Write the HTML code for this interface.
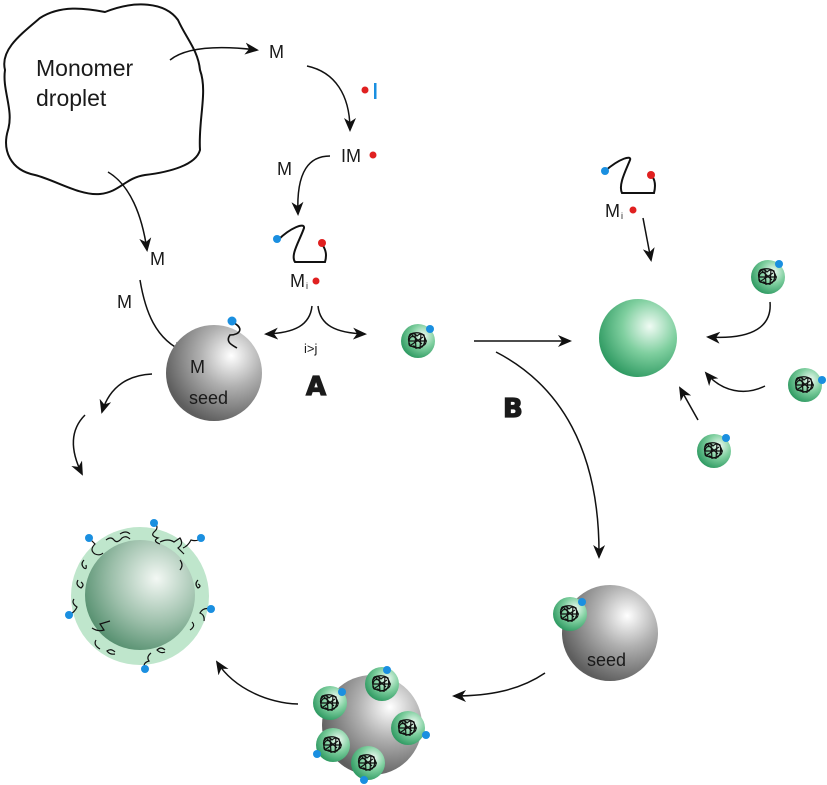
<!DOCTYPE html>
<html><head><meta charset="utf-8"><style>body{margin:0;background:#fff}svg{display:block}text{font-family:"Liberation Sans",sans-serif;fill:#1a1a1a}</style></head><body>
<svg width="827" height="785" viewBox="0 0 827 785" xmlns="http://www.w3.org/2000/svg">
<defs>
<radialGradient id="gr" cx="0.68" cy="0.32" r="0.72"><stop offset="0" stop-color="#ffffff"/><stop offset="0.45" stop-color="#b0b0b0"/><stop offset="1" stop-color="#5e5e5e"/></radialGradient>
<radialGradient id="gn" cx="0.65" cy="0.35" r="0.7"><stop offset="0" stop-color="#f0fbf4"/><stop offset="0.5" stop-color="#7fcf9f"/><stop offset="1" stop-color="#2f9a62"/></radialGradient>
<radialGradient id="gn2" cx="0.65" cy="0.35" r="0.75"><stop offset="0" stop-color="#f3f8f4"/><stop offset="0.55" stop-color="#9cbfaa"/><stop offset="1" stop-color="#4d8a68"/></radialGradient>
<marker id="ah" markerWidth="14" markerHeight="12" refX="12" refY="6" orient="auto" markerUnits="userSpaceOnUse"><path d="M0,0 L14,6 L0,12 L4,6 Z" fill="#111"/></marker>
<g id="sp"><circle r="17" fill="url(#gn)"/><g fill="none" stroke="#111" stroke-width="1.2"><path d="M-9,-4 q4,-6 8,-1 q5,-5 8,2 q3,6 -3,8 q-4,4 -8,0 q-6,2 -5,-5 q1,-6 6,-4 q3,3 -1,6 M-6,-6 l10,9 M-7,4 l12,-8 M-8,-7 q8,-3 14,1 q2,8 -2,12 q-8,2 -12,-2 q-3,-6 0,-11 M-3,-8 l1,16 M3,-8 l-1,16 M-9,0 l18,0"/></g></g>
</defs>
<g fill="none" stroke="#111" stroke-width="1.5">
<path d="M40,18 C60,5 85,8 105,12 C135,0 165,2 178,20 C186,38 198,50 200,70 C208,92 198,120 200,150 C196,165 170,172 145,175 C125,178 120,192 100,194 C80,196 55,180 35,175 C10,170 2,150 8,130 C14,110 2,90 5,70 C0,50 20,35 40,18 Z" stroke-width="2"/>
<path d="M170,60 C185,48 215,45 257,50" marker-end="url(#ah)"/>
<path d="M307,66 C335,72 350,95 350,130" marker-end="url(#ah)"/>
<path d="M330,156 C310,156 296,170 298,214" marker-end="url(#ah)"/>
<path d="M108,172 C130,185 142,215 147,250" marker-end="url(#ah)"/>
<path d="M140,280 C145,310 155,340 185,352" marker-end="url(#ah)"/>
<path d="M312,306 C310,325 295,333 266,334" marker-end="url(#ah)"/>
<path d="M318,306 C320,325 335,333 365,334" marker-end="url(#ah)"/>
<path d="M152,374 C130,375 110,385 102,412" marker-end="url(#ah)"/>
<path d="M85,415 C70,430 70,450 82,474" marker-end="url(#ah)"/>
<path d="M474,341 L570,341" marker-end="url(#ah)"/>
<path d="M496,352 C560,385 600,450 599,557" marker-end="url(#ah)"/>
<path d="M643,218 L651,260" marker-end="url(#ah)"/>
<path d="M770,302 C772,325 755,340 708,337" marker-end="url(#ah)"/>
<path d="M765,386 C745,396 722,392 706,373" marker-end="url(#ah)"/>
<path d="M698,420 L680,388" marker-end="url(#ah)"/>
<path d="M545,673 C520,690 490,696 454,696" marker-end="url(#ah)"/>
<path d="M298,704 C270,703 235,690 217,662" marker-end="url(#ah)"/>
</g>
<text x="36" y="76" font-size="23">Monomer</text>
<text x="36" y="106" font-size="23">droplet</text>
<text x="269" y="58" font-size="18">M</text>
<circle cx="365" cy="90" r="3.5" fill="#e02020"/><rect x="374" y="83" width="2.5" height="16" fill="#1a8fe0"/>
<text x="341" y="162" font-size="18">IM</text><circle cx="373" cy="155" r="3.5" fill="#e02020"/>
<text x="277" y="175" font-size="18">M</text>
<path d="M278,240 C290,228 305,222 304,228 C300,240 290,255 295,262 L325,262 C327,255 326,250 322,244" fill="none" stroke="#111" stroke-width="2"/>
<circle cx="277" cy="239" r="4" fill="#1a8fe0"/><circle cx="322" cy="243" r="4" fill="#e02020"/>
<text x="290" y="287" font-size="18">M</text><text x="306" y="289" font-size="9">i</text><circle cx="316" cy="281" r="3.5" fill="#e02020"/>
<text x="304" y="353" font-size="13">i&gt;j</text>
<text x="306" y="395" font-size="26" font-weight="bold" style="font-family:'DejaVu Sans',sans-serif" stroke="#1a1a1a" stroke-width="1.2">A</text>
<text x="503" y="417" font-size="26" font-weight="bold" style="font-family:'DejaVu Sans',sans-serif" stroke="#1a1a1a" stroke-width="1.2">B</text>
<text x="150" y="265" font-size="18">M</text>
<text x="117" y="308" font-size="18">M</text>
<circle cx="214" cy="373" r="48" fill="url(#gr)"/>
<text x="190" y="373" font-size="18">M</text>
<text x="189" y="404" font-size="18">seed</text>
<path d="M232,322 C245,328 240,335 230,335 C225,342 232,345 237,348" fill="none" stroke="#111" stroke-width="1.6"/>
<circle cx="232" cy="321" r="4.5" fill="#1a8fe0"/>
<use href="#sp" x="418" y="341"/><circle cx="430" cy="329" r="4" fill="#1a8fe0"/>
<path d="M605,171 C620,158 632,155 630,160 C626,170 618,185 622,193 L654,193 C656,185 655,180 652,176" fill="none" stroke="#111" stroke-width="2"/>
<circle cx="605" cy="171" r="4" fill="#1a8fe0"/><circle cx="651" cy="175" r="4" fill="#e02020"/>
<text x="605" y="217" font-size="18">M</text><text x="621" y="219" font-size="9">i</text><circle cx="633" cy="210" r="3.5" fill="#e02020"/>
<circle cx="638" cy="338" r="39" fill="url(#gn)"/>
<use href="#sp" x="768" y="277"/><circle cx="779" cy="264" r="4" fill="#1a8fe0"/>
<use href="#sp" x="805" y="385"/><circle cx="822" cy="380" r="4" fill="#1a8fe0"/>
<use href="#sp" x="714" y="451"/><circle cx="726" cy="438" r="4" fill="#1a8fe0"/>
<circle cx="610" cy="633" r="48" fill="url(#gr)"/>
<text x="587" y="666" font-size="18">seed</text>
<use href="#sp" x="570" y="614"/><circle cx="582" cy="602" r="4" fill="#1a8fe0"/>
<circle cx="372" cy="725" r="50" fill="url(#gr)"/>
<use href="#sp" x="330" y="703"/><use href="#sp" x="382" y="684"/><use href="#sp" x="408" y="728"/><use href="#sp" x="333" y="745"/><use href="#sp" x="368" y="763"/>
<circle cx="387" cy="670" r="4" fill="#1a8fe0"/><circle cx="342" cy="692" r="4" fill="#1a8fe0"/><circle cx="426" cy="735" r="4" fill="#1a8fe0"/><circle cx="317" cy="754" r="4" fill="#1a8fe0"/><circle cx="364" cy="780" r="4" fill="#1a8fe0"/>
<circle cx="140" cy="596" r="69" fill="#bfe6cc"/>
<circle cx="140" cy="595" r="55" fill="url(#gn2)"/>
<g fill="none" stroke="#111" stroke-width="1.2">
<path d="M89,538 l6,6 q-6,6 0,10 q5,2 8,-1 M106,540 q5,-4 8,0 q3,4 8,-2 q4,-3 8,1 M154,523 q6,4 0,9 q-4,4 4,6 q-6,3 2,6 M160,542 q8,-4 14,0 l6,-4 q4,6 -2,10 l6,6 M201,538 q-4,4 -10,2 q-3,6 -8,8 M198,580 q-4,4 0,8 q4,-2 0,-4 M211,609 q-8,-2 -11,4 q5,2 4,8 M192,622 q4,4 -2,8 M165,650 q-4,-4 -8,0 q4,4 8,2 M145,669 q-3,-6 4,-8 q-3,-4 2,-8 M115,652 q-4,-4 -8,-1 q3,4 8,3 M92,628 q6,4 12,2 l-4,-6 l10,-3 M69,615 q6,-3 8,-8 q-6,-4 -3,-8 M78,580 q-3,5 3,8 q4,-3 0,-6 M84,560 q-4,4 0,8 q3,2 2,-3 M120,534 q6,-4 10,0 M180,560 q4,5 0,10 M96,640 q-3,5 4,9"/>
</g>
<circle cx="89" cy="538" r="4" fill="#1a8fe0"/><circle cx="154" cy="523" r="4" fill="#1a8fe0"/><circle cx="201" cy="538" r="4" fill="#1a8fe0"/><circle cx="211" cy="609" r="4" fill="#1a8fe0"/><circle cx="69" cy="615" r="4" fill="#1a8fe0"/><circle cx="145" cy="669" r="4" fill="#1a8fe0"/>
</svg>
</body></html>
